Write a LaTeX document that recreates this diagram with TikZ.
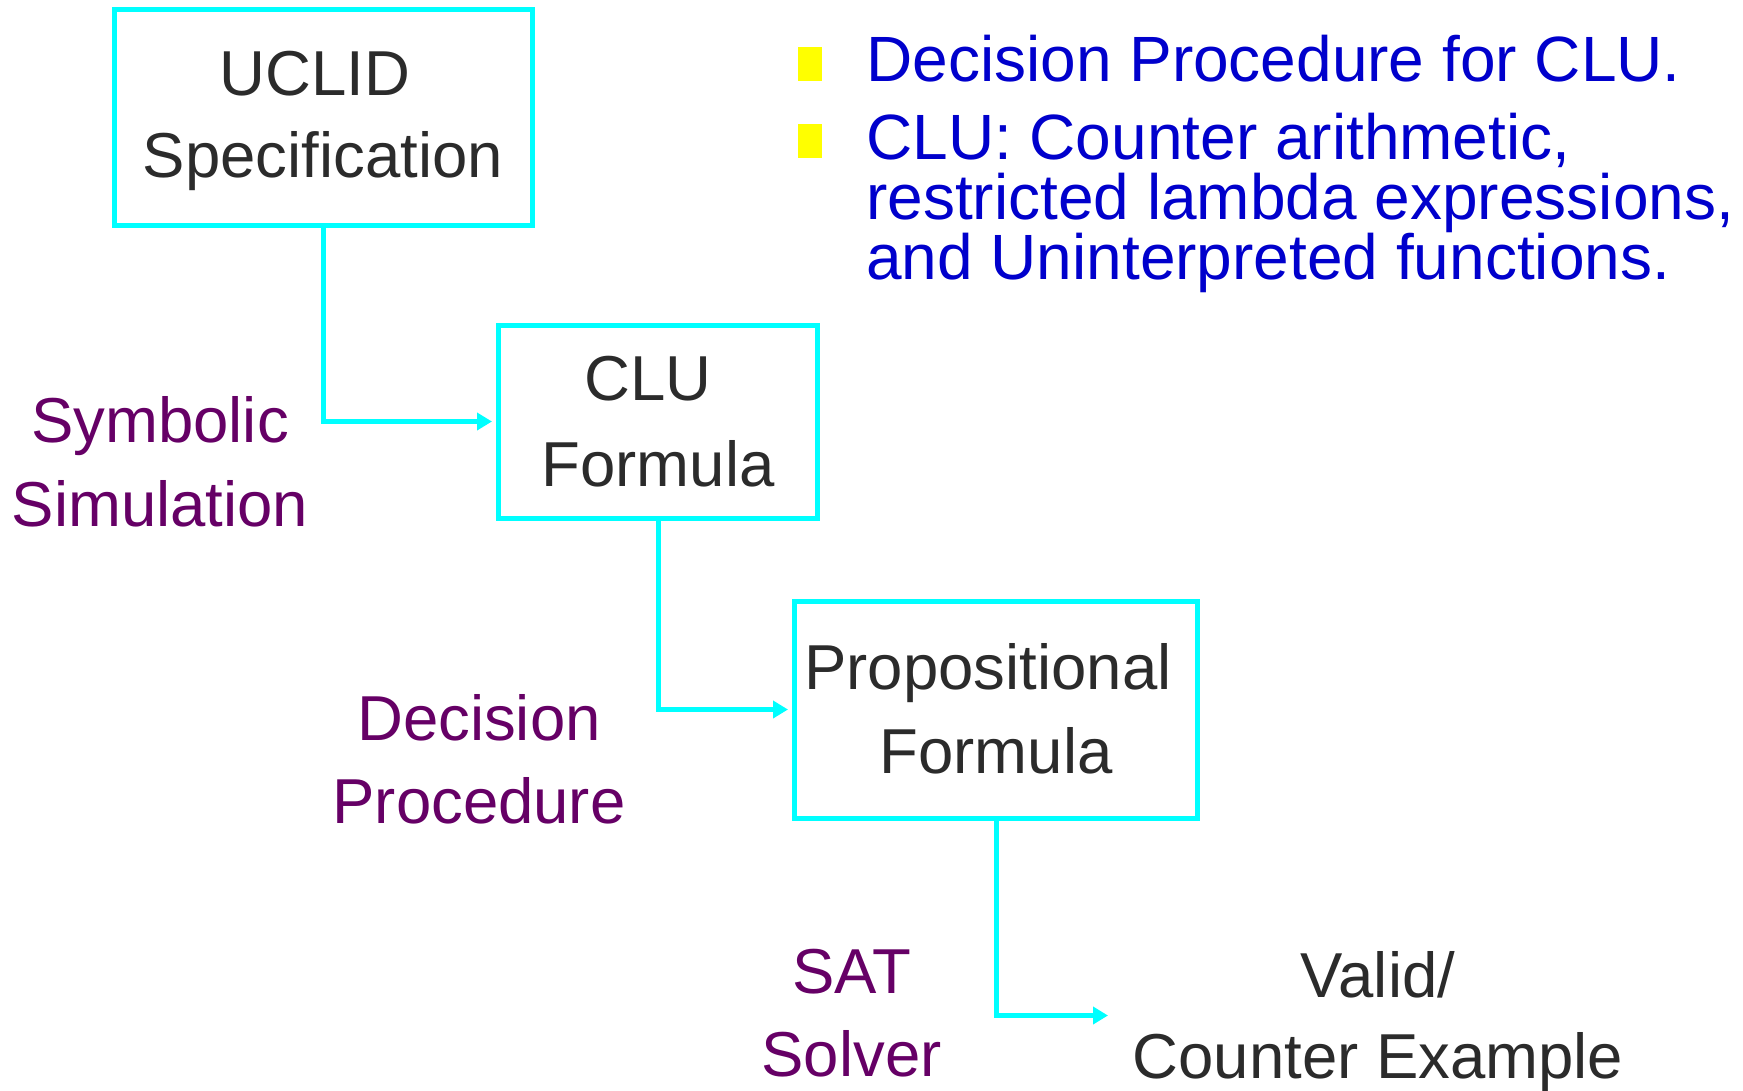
\documentclass[tikz,border=0pt]{standalone}
\usepackage{fontspec}
\setmainfont{Liberation Sans}
\usetikzlibrary{arrows.meta}
\definecolor{boxcyan}{HTML}{00FFFF}
\definecolor{lblpurple}{HTML}{660066}
\definecolor{bulblue}{HTML}{0000CC}
\definecolor{txtgray}{HTML}{2B2B2B}
\definecolor{bulyellow}{HTML}{FFFF00}
\begin{document}
\begin{tikzpicture}[x=1pt,y=-1pt,
  box/.style={draw=boxcyan,line width=5pt,inner sep=0pt},
  flow/.style={draw=boxcyan,line width=5pt,-{Triangle[length=15pt,width=17pt]},shorten >=4pt},
  txt/.style={anchor=base,inner sep=0pt,text=txtgray,font=\fontsize{63.5}{82}\selectfont},
  lbl/.style={anchor=base,inner sep=0pt,text=lblpurple,font=\fontsize{63.5}{82}\selectfont},
  bul/.style={anchor=base west,inner sep=0pt,text=bulblue,font=\fontsize{64}{60}\selectfont},
  sq/.style={fill=bulyellow,minimum width=24pt,minimum height=34pt,inner sep=0pt}]
\useasboundingbox[fill=white] (0,0) rectangle (1743,1090);

% boxes
\node[box,minimum width=418pt,minimum height=216pt] (uclid) at (323.5,117.5) {};
\node[box,minimum width=319pt,minimum height=193pt] (clu) at (658,421.5) {};
\node[box,minimum width=403pt,minimum height=217pt] (prop) at (996,709.5) {};
\coordinate (result) at (1112,1015.5);

% box texts
\node[txt] (t1a) at (315,95) {UCLID};
\node[txt] (t1b) at (323,177) {Specification};
\node[txt] (t2a) at (648,400) {CLU};
\node[txt] (t2b) at (658,486) {Formula};
\node[txt] (t3a) at (988,689) {Propositional};
\node[txt] (t3b) at (996,773) {Formula};
\node[txt] (t4a) at (1378,997) {Valid/};
\node[txt] (t4b) at (1378,1078) {Counter Example};

% step labels
\node[lbl] (l1a) at (160,442) {Symbolic};
\node[lbl] (l1b) at (160,526) {Simulation};
\node[lbl] (l2a) at (479,740) {Decision};
\node[lbl] (l2b) at (479,823) {Procedure};
\node[lbl] (l3a) at (851.5,993) {SAT};
\node[lbl] (l3b) at (851.5,1076) {Solver};

% connectors
\draw[flow] (uclid.south) |- (clu.west);
\draw[flow] (clu.south) |- (prop.west);
\draw[flow] (prop.south) |- (result);

% bullets
\node[sq] (s1) at (810,64) {};
\node[sq] (s2) at (810,141) {};
\node[bul] (b1) at (866,81) {Decision Procedure for CLU.};
\node[bul] (b2a) at (866,159) {CLU: Counter arithmetic,};
\node[bul] (b2b) at (866,219) {restricted lambda expressions,};
\node[bul] (b2c) at (866,279) {and Uninterpreted functions.};
\end{tikzpicture}
\end{document}
